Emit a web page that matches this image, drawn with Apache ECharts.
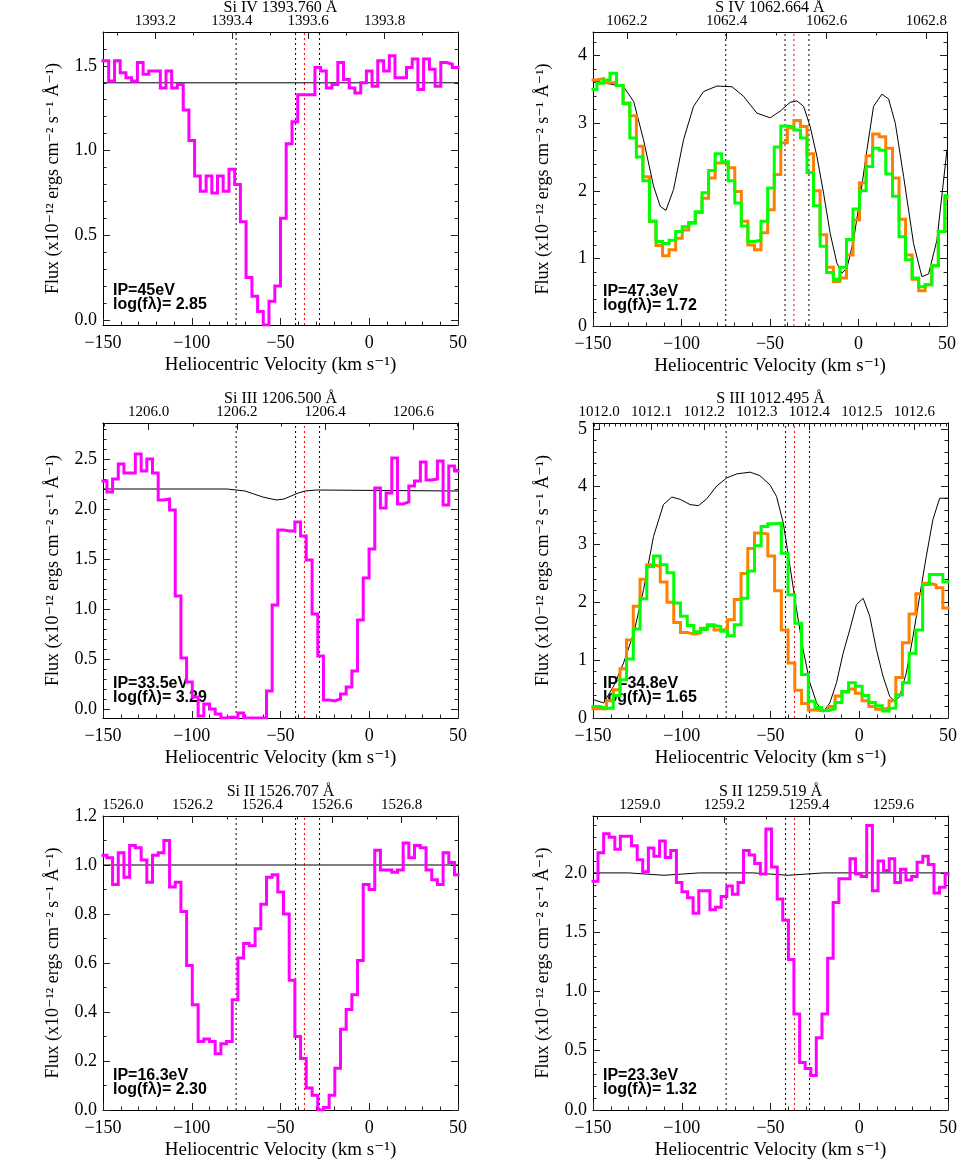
<!DOCTYPE html>
<html>
<head>
<meta charset="utf-8">
<script src="https://cdn.jsdelivr.net/npm/echarts@6/dist/echarts.min.js"></script>
<style>html,body{margin:0;padding:0;background:#fff}#chart{width:980px;height:1176px}</style>
</head>
<body>
<div id="chart"></div>
<script>
// ---------------- DATA ----------------
const C_KMS = 299792.458;
const cloudVel = [-75, -41.5, -28];   // black dotted markers (km/s)
const refVel = [-36.5];               // red dotted marker (km/s)

// Bin edges (km/s) — each array has one more entry than its flux arrays
const siivEdges = [-150.0, -146.8, -143.5, -140.3, -137.1, -133.9, -130.6, -127.4, -124.2, -121.0,
  -117.7, -114.5, -111.3, -108.1, -104.8, -101.6, -98.4, -95.2, -91.9, -88.7,
  -85.5, -82.3, -79.0, -75.8, -72.6, -69.4, -66.1, -62.9, -59.7, -56.5,
  -53.2, -50.0, -46.8, -43.5, -40.3, -37.1, -33.9, -30.6, -27.4, -24.2,
  -21.0, -17.7, -14.5, -11.3, -8.1, -4.8, -1.6, 1.6, 4.8, 8.1,
  11.3, 14.5, 17.7, 21.0, 24.2, 27.4, 30.6, 33.9, 37.1, 40.3,
  43.5, 46.8, 50.0];
const stisEdgesB = [-150.0, -147.8, -144.6, -141.4, -138.2, -135.0, -131.8, -128.5, -125.3, -122.1,
  -118.9, -115.7, -112.5, -109.3, -106.1, -102.9, -99.7, -96.4, -93.2, -90.0,
  -86.8, -83.6, -80.4, -77.2, -74.0, -70.8, -67.6, -64.3, -61.1, -57.9,
  -54.7, -51.5, -48.3, -45.1, -41.9, -38.7, -35.5, -32.2, -29.0, -25.8,
  -22.6, -19.4, -16.2, -13.0, -9.8, -6.6, -3.4, -0.1, 3.1, 6.3,
  9.5, 12.7, 15.9, 19.1, 22.3, 25.5, 28.8, 32.0, 35.2, 38.4,
  41.6, 44.8, 48.0, 50.0];
const siiEdges = [-150.0, -147.2, -144.0, -140.9, -137.7, -134.6, -131.4, -128.3, -125.1, -122.0,
  -118.8, -115.7, -112.5, -109.3, -106.2, -103.0, -99.9, -96.7, -93.6, -90.4,
  -87.3, -84.1, -81.0, -77.8, -74.6, -71.5, -68.3, -65.2, -62.0, -58.9,
  -55.7, -52.6, -49.4, -46.2, -43.1, -39.9, -36.8, -33.6, -30.5, -27.3,
  -24.2, -21.0, -17.8, -14.7, -11.5, -8.4, -5.2, -2.1, 1.1, 4.2,
  7.4, 10.6, 13.7, 16.9, 20.0, 23.2, 26.3, 29.5, 32.6, 35.8,
  38.9, 42.1, 45.2, 48.4, 50.0];
const sivEdges = [-150.0, -147.8, -144.1, -140.4, -136.7, -133.0, -129.2, -125.5, -121.8, -118.1,
  -114.4, -110.7, -107.0, -103.3, -99.6, -95.9, -92.2, -88.4, -84.7, -81.0,
  -77.3, -73.6, -69.9, -66.2, -62.5, -58.8, -55.1, -51.3, -47.6, -43.9,
  -40.2, -36.5, -32.8, -29.1, -25.4, -21.7, -18.0, -14.2, -10.5, -6.8,
  -3.1, 0.6, 4.3, 8.0, 11.7, 15.4, 19.2, 22.9, 26.6, 30.3,
  34.0, 37.7, 41.4, 45.1, 48.8, 50.0];
const siiiSEdges = [-150.0, -146.2, -142.4, -138.6, -134.8, -131.1, -127.3, -123.5, -119.7, -115.9,
  -112.1, -108.3, -104.5, -100.7, -96.9, -93.2, -89.4, -85.6, -81.8, -78.0,
  -74.2, -70.4, -66.6, -62.8, -59.0, -55.3, -51.5, -47.7, -43.9, -40.1,
  -36.3, -32.5, -28.7, -24.9, -21.1, -17.4, -13.6, -9.8, -6.0, -2.2,
  1.6, 5.4, 9.2, 13.0, 16.8, 20.6, 24.3, 28.1, 31.9, 35.7,
  39.5, 43.3, 47.1, 50.0];

// Si IV 1393.760
const siivFlux = [1.53, 1.41, 1.53, 1.46, 1.43, 1.41, 1.52, 1.45, 1.47, 1.47,
  1.37, 1.47, 1.37, 1.39, 1.24, 1.06, 0.85, 0.76, 0.85, 0.75,
  0.85, 0.76, 0.89, 0.80, 0.58, 0.25, 0.14, 0.05, -0.03, 0.11,
  0.20, 0.60, 1.04, 1.17, 1.33, 1.33, 1.33, 1.49, 1.47, 1.37,
  1.39, 1.52, 1.42, 1.37, 1.34, 1.40, 1.47, 1.38, 1.53, 1.47,
  1.56, 1.43, 1.43, 1.49, 1.54, 1.36, 1.54, 1.48, 1.38, 1.52,
  1.51, 1.49];
const siivModelVel = [-150, 50];
const siivModelFlux = [1.40, 1.40];

// S IV 1062.664
const sivFluxOrange = [3.64, 3.66, 3.60, 3.60, 3.56, 3.30, 3.11, 2.66, 2.21, 1.55,
  1.19, 1.04, 1.13, 1.30, 1.42, 1.53, 1.68, 1.89, 2.19, 2.41,
  2.41, 2.34, 1.99, 1.55, 1.20, 1.13, 1.38, 1.72, 2.24, 2.71,
  2.93, 3.04, 2.95, 2.55, 2.00, 1.35, 0.87, 0.66, 0.71, 1.05,
  1.57, 2.12, 2.52, 2.84, 2.80, 2.63, 2.19, 1.58, 1.05, 0.69,
  0.52, 0.61, 0.89, 1.40, 1.89];
const sivFluxGreen = [3.50, 3.59, 3.64, 3.74, 3.56, 3.29, 2.78, 2.50, 2.15, 1.55,
  1.25, 1.22, 1.27, 1.40, 1.47, 1.52, 1.69, 1.97, 2.30, 2.55,
  2.43, 2.15, 1.82, 1.48, 1.25, 1.27, 1.55, 2.04, 2.65, 2.96,
  2.95, 2.90, 2.78, 2.27, 1.78, 1.18, 0.79, 0.69, 0.87, 1.28,
  1.73, 2.00, 2.36, 2.63, 2.60, 2.25, 1.92, 1.32, 0.98, 0.71,
  0.58, 0.61, 0.89, 1.40, 1.93];
const sivModelVel = [-150, -132.7, -127, -121.5, -115.8, -112, -108.8, -104.5, -98.8, -93.2,
  -87.5, -80, -71.5, -65, -57.4, -49.9, -44.2, -38.6, -34.8, -31,
  -27.3, -23.5, -19.7, -16, -12.2, -9.4, -6.5, -2.8, 1.0, 4.8,
  8.5, 13.2, 17, 20.8, 25.5, 31.1, 35.8, 39.6, 44.3, 50];
const sivModelFlux = [3.63, 3.54, 3.32, 2.76, 2.07, 1.77, 1.71, 2.02, 2.76, 3.25,
  3.47, 3.55, 3.54, 3.40, 3.15, 3.08, 3.18, 3.31, 3.33, 3.25,
  2.95, 2.51, 1.96, 1.37, 0.93, 0.78, 0.86, 1.27, 1.91, 2.61,
  3.25, 3.43, 3.36, 3.00, 2.21, 1.22, 0.73, 0.77, 1.27, 2.61];

// Si III 1206.500
const siiiFlux = [2.28, 2.17, 2.30, 2.45, 2.36, 2.36, 2.55, 2.38, 2.50, 2.36,
  2.09, 2.10, 1.99, 1.13, 0.51, 0.27, 0.12, -0.07, 0.05, 0.00,
  -0.05, -0.09, -0.08, -0.09, -0.04, -0.09, -0.09, -0.09, -0.09, 0.18,
  1.04, 1.79, 1.78, 1.78, 1.87, 1.73, 1.49, 0.95, 0.53, 0.09,
  0.08, 0.10, 0.15, 0.22, 0.38, 0.89, 1.31, 1.60, 2.21, 2.01,
  2.16, 2.51, 2.05, 2.07, 2.23, 2.28, 2.47, 2.29, 2.30, 2.48,
  2.04, 2.43, 2.38];
const siiiModelVel = [-150, -80, -75, -70, -65, -60, -55, -52, -48, -44, -40, -36, -30, 50];
const siiiModelFlux = [2.20, 2.20, 2.19, 2.18, 2.15, 2.12, 2.10, 2.09, 2.10, 2.13, 2.16, 2.18, 2.19, 2.18];

// S III 1012.495
const siiiSFluxOrange = [0.16, 0.16, 0.30, 0.49, 0.85, 1.35, 1.93, 2.40, 2.65, 2.62,
  2.35, 2.00, 1.65, 1.48, 1.45, 1.47, 1.55, 1.61, 1.52, 1.53,
  1.70, 2.05, 2.50, 2.93, 3.20, 3.18, 2.80, 2.20, 1.52, 0.95,
  0.48, 0.25, 0.14, 0.13, 0.13, 0.20, 0.38, 0.45, 0.50, 0.43,
  0.30, 0.20, 0.15, 0.17, 0.30, 0.70, 1.30, 1.80, 2.15, 2.33,
  2.30, 2.25, 1.90];
const siiiSFluxGreen = [0.20, 0.17, 0.17, 0.39, 0.66, 1.02, 1.54, 2.06, 2.62, 2.80,
  2.65, 2.51, 1.99, 1.76, 1.60, 1.49, 1.53, 1.60, 1.58, 1.50,
  1.42, 1.61, 2.07, 2.54, 2.98, 3.31, 3.36, 3.37, 2.85, 2.13,
  1.64, 0.75, 0.29, 0.18, 0.13, 0.16, 0.27, 0.46, 0.61, 0.55,
  0.39, 0.27, 0.21, 0.12, 0.17, 0.40, 0.61, 1.12, 1.52, 2.31,
  2.48, 2.48, 2.35];
const siiiSModelVel = [-150, -144, -138.4, -132.8, -127, -121.5, -115.9, -110.3, -105.6, -100.9,
  -95.3, -90.6, -85.9, -80.3, -74.7, -69, -61.5, -56, -50.3, -46.6,
  -42.8, -39, -35.3, -31.6, -27.8, -24, -20.3, -16.6, -12.8, -9.1,
  -5.3, -1.6, 2.2, 5.9, 9.7, 13.4, 17.2, 20, 22.8, 26.5,
  30.3, 34, 37.8, 41.5, 45.3, 50];
const siiiSModelFlux = [0.32, 0.26, 0.55, 0.95, 1.47, 2.22, 3.14, 3.69, 3.82, 3.78,
  3.69, 3.67, 3.79, 4.01, 4.15, 4.22, 4.25, 4.19, 4.03, 3.83,
  3.37, 2.62, 1.87, 1.18, 0.61, 0.26, 0.10, 0.26, 0.61, 1.12,
  1.53, 1.96, 2.07, 1.76, 1.18, 0.72, 0.37, 0.29, 0.37, 0.78,
  1.41, 2.10, 2.80, 3.43, 3.80, 3.80];

// Si II 1526.707
const siiFlux = [1.04, 1.03, 0.92, 1.05, 0.95, 1.08, 1.07, 1.02, 0.93, 1.04,
  1.05, 1.10, 0.91, 0.93, 0.81, 0.59, 0.43, 0.28, 0.29, 0.28,
  0.23, 0.27, 0.28, 0.45, 0.62, 0.68, 0.67, 0.74, 0.84, 0.95,
  0.96, 0.89, 0.80, 0.53, 0.30, 0.21, 0.09, 0.06, 0.00, 0.01,
  0.06, 0.17, 0.33, 0.41, 0.47, 0.61, 0.92, 0.90, 1.06, 0.98,
  0.98, 0.97, 0.98, 1.09, 1.03, 1.08, 1.07, 0.98, 0.94, 0.92,
  1.05, 1.01, 0.96];
const siiModelVel = [-150, 50];
const siiModelFlux = [1.0, 1.0];

// S II 1259.519
const siiSFlux = [1.93, 2.17, 2.33, 2.30, 2.20, 2.31, 2.31, 2.23, 2.11, 2.01,
  2.21, 2.14, 2.27, 2.13, 2.19, 1.92, 1.84, 1.79, 1.66, 1.85,
  1.85, 1.69, 1.71, 1.80, 1.89, 1.82, 1.92, 2.19, 2.15, 2.08,
  1.99, 2.37, 2.05, 1.78, 1.60, 1.27, 0.81, 0.40, 0.35, 0.29,
  0.61, 0.81, 1.28, 1.75, 1.95, 1.95, 2.12, 1.99, 1.97, 2.40,
  1.85, 2.10, 2.02, 2.12, 1.92, 2.03, 1.94, 1.97, 2.09, 2.14,
  2.07, 1.83, 1.88, 1.99];
const siiSModelVel = [-150, -130, -120, -110, -100, -90, -60, -50, -40, -30, -20, 50];
const siiSModelFlux = [2.00, 2.00, 1.99, 1.98, 1.99, 2.00, 2.00, 1.99, 1.98, 1.99, 2.00, 2.00];

// Tick labels
const velTicks = [-150, -100, -50, 0, 50];
const siivTop = [1393.2, 1393.4, 1393.6, 1393.8];
const sivTop = [1062.2, 1062.4, 1062.6, 1062.8];
const siiiTop = [1206.0, 1206.2, 1206.4, 1206.6];
const siiiSTop = [1012.0, 1012.1, 1012.2, 1012.3, 1012.4, 1012.5, 1012.6];
const siiTop = [1526.0, 1526.2, 1526.4, 1526.6, 1526.8];
const siiSTop = [1259.0, 1259.2, 1259.4, 1259.6];
const siivYTicks = [0, 0.5, 1.0, 1.5];
const sivYTicks = [0, 1, 2, 3, 4];
const siiiYTicks = [0, 0.5, 1.0, 1.5, 2.0, 2.5];
const siiiSYTicks = [0, 1, 2, 3, 4, 5];
const siiYTicks = [0, 0.2, 0.4, 0.6, 0.8, 1.0, 1.2];
const siiSYTicks = [0, 0.5, 1.0, 1.5, 2.0];

// ---------------- STYLE / LAYOUT ----------------
const SERIF = '"Liberation Serif", "DejaVu Serif", serif';
const SANS = '"Liberation Sans", Arial, sans-serif';
const MAGENTA = '#ff00ff', ORANGE = '#ff8000', GREEN = '#00ff00';
const FLUX_NAME = 'Flux (x10\u207B\u00B9\u00B2 ergs cm\u207B\u00B2 s\u207B\u00B9 \u00C5\u207B\u00B9)';
const VEL_NAME = 'Heliocentric Velocity (km s\u207B\u00B9)';

const panels = [
  { title: 'Si IV 1393.760 \u00C5', lambda0: 1393.760, ip: 'IP=45eV', logfl: 'log(f\u03BB)= 2.85',
    box: [103, 32, 355, 293], y: [-0.03, 1.70], yTicks: siivYTicks, yMinor: 0.1, dec: 1,
    top: siivTop, topMinor: 0.1, model: [siivModelVel, siivModelFlux],
    hist: [[siivEdges, siivFlux, MAGENTA]] },
  { title: 'S IV 1062.664 \u00C5', lambda0: 1062.664, ip: 'IP=47.3eV', logfl: 'log(f\u03BB)= 1.72',
    box: [593, 32, 354, 294], y: [0, 4.35], yTicks: sivYTicks, yMinor: 0.2, dec: 0,
    top: sivTop, topMinor: 0.1, model: [sivModelVel, sivModelFlux],
    hist: [[sivEdges, sivFluxOrange, ORANGE], [sivEdges, sivFluxGreen, GREEN]] },
  { title: 'Si III 1206.500 \u00C5', lambda0: 1206.500, ip: 'IP=33.5eV', logfl: 'log(f\u03BB)= 3.29',
    box: [103, 423, 355, 295], y: [-0.09, 2.86], yTicks: siiiYTicks, yMinor: 0.1, dec: 1,
    top: siiiTop, topMinor: 0.1, model: [siiiModelVel, siiiModelFlux],
    hist: [[stisEdgesB, siiiFlux, MAGENTA]] },
  { title: 'S III 1012.495 \u00C5', lambda0: 1012.495, ip: 'IP=34.8eV', logfl: 'log(f\u03BB)= 1.65',
    box: [593, 423, 355, 295], y: [0, 5.1], yTicks: siiiSYTicks, yMinor: 0.2, dec: 0,
    top: siiiSTop, topMinor: 0.01, model: [siiiSModelVel, siiiSModelFlux],
    hist: [[siiiSEdges, siiiSFluxOrange, ORANGE], [siiiSEdges, siiiSFluxGreen, GREEN]] },
  { title: 'Si II 1526.707 \u00C5', lambda0: 1526.707, ip: 'IP=16.3eV', logfl: 'log(f\u03BB)= 2.30',
    box: [103, 816, 355, 294], y: [0, 1.2], yTicks: siiYTicks, yMinor: 0.1, dec: 1,
    top: siiTop, topMinor: 0.1, model: [siiModelVel, siiModelFlux],
    hist: [[stisEdgesB, siiFlux, MAGENTA]] },
  { title: 'S II 1259.519 \u00C5', lambda0: 1259.519, ip: 'IP=23.3eV', logfl: 'log(f\u03BB)= 1.32',
    box: [593, 816, 355, 294], y: [0, 2.48], yTicks: siiSYTicks, yMinor: 0.1, dec: 1,
    top: siiSTop, topMinor: 0.1, model: [siiSModelVel, siiSModelFlux],
    hist: [[siiEdges, siiSFlux, MAGENTA]] }
];

function ticksBetween(a, b, step) {
  const out = [];
  const k0 = Math.ceil(a / step - 1e-7), k1 = Math.floor(b / step + 1e-7);
  for (let k = k0; k <= k1; k++) out.push(+(k * step).toFixed(6));
  return out;
}

const option = { animation: false, backgroundColor: '#fff', grid: [], xAxis: [], yAxis: [], series: [], graphic: [] };
const AX_LINE = { show: true, onZero: false, lineStyle: { color: '#000', width: 1 } };
const TICK_STYLE = { color: '#222', width: 1 };
const VMIN = -150, VMAX = 50;

panels.forEach((p, i) => {
  const [L, T, W, H] = p.box;
  option.grid.push({ left: L, top: T, width: W, height: H, containLabel: false, outerBoundsMode: 'none' });
  const xb = option.xAxis.length, yb = option.yAxis.length;
  const toV = lam => C_KMS * (lam / p.lambda0 - 1);
  const toLam = v => p.lambda0 * (1 + v / C_KMS);

  // bottom velocity axis
  option.xAxis.push({
    type: 'value', gridIndex: i, position: 'bottom', min: VMIN, max: VMAX, interval: 50,
    axisLine: AX_LINE,
    axisTick: { show: true, inside: true, length: 7, lineStyle: TICK_STYLE },
    minorTick: { show: true, splitNumber: 5, length: 3.5, lineStyle: TICK_STYLE },
    splitLine: { show: false }, minorSplitLine: { show: false },
    axisLabel: { show: true, margin: 9, color: '#000', fontFamily: SERIF, fontSize: 18,
      customValues: velTicks, formatter: v => String(v).replace('-', '\u2212') },
    name: VEL_NAME, nameLocation: 'middle', nameGap: 31,
    nameTextStyle: { color: '#000', fontFamily: SERIF, fontSize: 19 }
  });
  // top wavelength axis (major)
  const topV = p.top.map(toV);
  option.xAxis.push({
    type: 'value', gridIndex: i, position: 'top', min: VMIN, max: VMAX,
    axisLine: AX_LINE,
    axisTick: { show: true, inside: true, length: 7, customValues: topV, lineStyle: TICK_STYLE },
    splitLine: { show: false },
    axisLabel: { show: true, margin: 3, color: '#000', fontFamily: SERIF, fontSize: 15,
      customValues: topV, formatter: v => toLam(v).toFixed(1) }
  });
  // top wavelength axis (minor ticks)
  const minorV = ticksBetween(toLam(VMIN), toLam(VMAX), p.topMinor).map(toV);
  option.xAxis.push({
    type: 'value', gridIndex: i, position: 'top', min: VMIN, max: VMAX,
    axisLine: { show: false, onZero: false },
    axisTick: { show: true, inside: true, length: 3.5, customValues: minorV, lineStyle: TICK_STYLE },
    axisLabel: { show: false }, splitLine: { show: false }
  });

  const yMinorVals = ticksBetween(p.y[0], p.y[1], p.yMinor);
  ['left', 'right'].forEach(pos => {
    option.yAxis.push({
      type: 'value', gridIndex: i, position: pos, min: p.y[0], max: p.y[1],
      axisLine: AX_LINE,
      axisTick: { show: true, inside: true, length: 7, customValues: p.yTicks, lineStyle: TICK_STYLE },
      splitLine: { show: false },
      axisLabel: pos === 'left'
        ? { show: true, margin: 6, color: '#000', fontFamily: SERIF, fontSize: 18,
            customValues: p.yTicks, formatter: v => Number(v).toFixed(p.dec) }
        : { show: false },
      name: pos === 'left' ? FLUX_NAME : '',
      nameLocation: 'middle', nameRotate: 90, nameGap: 41,
      nameTextStyle: { color: '#000', fontFamily: SERIF, fontSize: 18 }
    });
    option.yAxis.push({
      type: 'value', gridIndex: i, position: pos, min: p.y[0], max: p.y[1],
      axisLine: { show: false, onZero: false },
      axisTick: { show: true, inside: true, length: 3.5, customValues: yMinorVals, lineStyle: TICK_STYLE },
      axisLabel: { show: false }, splitLine: { show: false }
    });
  });

  const base = { type: 'line', xAxisIndex: xb, yAxisIndex: yb, symbol: 'none', silent: true, clip: true };
  // vertical markers
  cloudVel.forEach(v => option.series.push(Object.assign({}, base, {
    data: [[v, p.y[0]], [v, p.y[1]]], z: 1,
    lineStyle: { color: '#000', width: 1, type: [2, 3] } })));
  refVel.forEach(v => option.series.push(Object.assign({}, base, {
    data: [[v, p.y[0]], [v, p.y[1]]], z: 1,
    lineStyle: { color: '#ff0000', width: 1, type: [2, 3] } })));
  // model / continuum
  option.series.push(Object.assign({}, base, {
    data: p.model[0].map((v, k) => [v, p.model[1][k]]), z: 2,
    lineStyle: { color: '#000', width: 1 } }));
  // histograms
  p.hist.forEach(([edges, flux, color]) => {
    const d = flux.map((f, k) => [edges[k], f]);
    d.push([edges[flux.length], flux[flux.length - 1]]);
    option.series.push(Object.assign({}, base, {
      data: d, step: 'end', z: 3,
      lineStyle: { color: color, width: 3, join: 'miter', cap: 'square' } }));
  });

  // texts
  option.graphic.push({ type: 'text', x: L + W / 2, y: T - 24, silent: true,
    style: { text: p.title, font: '16px ' + SERIF, fill: '#000', align: 'center', verticalAlign: 'middle',
             textAlign: 'center', textVerticalAlign: 'middle' } });
  option.graphic.push({ type: 'text', x: L + 10, y: T + H - 34, silent: true,
    style: { text: p.ip, font: 'bold 16px ' + SANS, fill: '#000', align: 'left', verticalAlign: 'middle',
             textAlign: 'left', textVerticalAlign: 'middle' } });
  option.graphic.push({ type: 'text', x: L + 10, y: T + H - 20, silent: true,
    style: { text: p.logfl, font: 'bold 16px ' + SANS, fill: '#000', align: 'left', verticalAlign: 'middle',
             textAlign: 'left', textVerticalAlign: 'middle' } });
});

const chart = echarts.init(document.getElementById('chart'), null, { renderer: 'canvas', width: 980, height: 1176 });
chart.setOption(option);
</script>
</body>
</html>
